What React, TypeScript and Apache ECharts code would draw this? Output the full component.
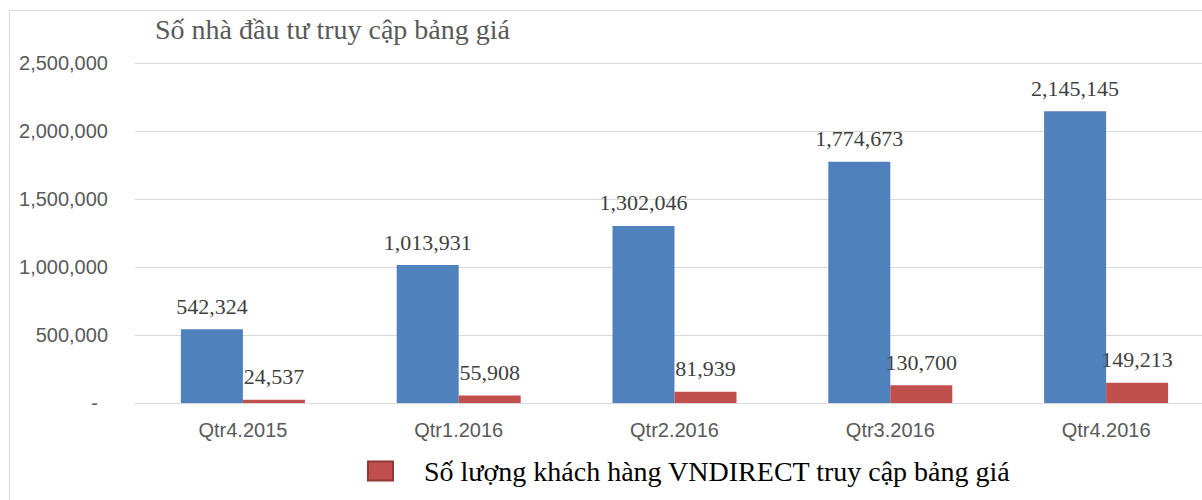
import React, { useEffect, useRef } from "react";
import * as echarts from "echarts";

const categories = ["Qtr4.2015", "Qtr1.2016", "Qtr2.2016", "Qtr3.2016", "Qtr4.2016"];
const investorValues = [542324, 1013931, 1302046, 1774673, 2145145];
const customerValues = [24537, 55908, 81939, 130700, 149213];
const titleText = "Số nhà đầu tư truy cập bảng giá";
const customerName = "Số lượng khách hàng VNDIRECT truy cập bảng giá";
const investorName = "Số nhà đầu tư truy cập bảng giá ";

const fmt = (v: number) => v.toLocaleString("en-US");

export default function App() {
  const ref = useRef<HTMLDivElement>(null);
  useEffect(() => {
    if (!ref.current) return;
    const chart = echarts.init(ref.current, undefined, { renderer: "svg" });
    const serif = "'Liberation Serif', 'Times New Roman', serif";
    const sans = "'Liberation Sans', Arial, sans-serif";
    chart.setOption({
      animation: false,
      backgroundColor: "#ffffff",
      title: {
        text: titleText,
        left: 150,
        top: 10,
        textStyle: { fontFamily: serif, fontSize: 28, fontWeight: "normal", color: "#595959" },
      },
      graphic: [
        {
          type: "rect",
          shape: { x: 9.5, y: 10.5, width: 1400, height: 700 },
          style: { fill: "none", stroke: "#d9d9d9", lineWidth: 1 },
          silent: true,
          z: -1,
        },
      ],
      legend: {
        data: [customerName],
        left: 362,
        top: 452,
        icon: "rect",
        itemWidth: 25,
        itemHeight: 19,
        itemStyle: { borderColor: "#943634", borderWidth: 2 },
        textStyle: { fontFamily: serif, fontSize: 28, color: "#000000", padding: [0, 0, 0, 26] },
      },
      grid: { left: 135, right: 0, top: 63, bottom: 97, containLabel: false },
      xAxis: {
        type: "category",
        data: categories,
        axisLine: { lineStyle: { color: "#d9d9d9", width: 1 } },
        axisTick: { show: false },
        axisLabel: { fontFamily: sans, fontSize: 20, color: "#595959", margin: 17 },
      },
      yAxis: {
        type: "value",
        min: 0,
        max: 2500000,
        interval: 500000,
        axisLine: { show: false },
        axisTick: { show: false },
        splitLine: { lineStyle: { color: "#d9d9d9", width: 1 } },
        axisLabel: {
          fontFamily: sans,
          fontSize: 20,
          color: "#595959",
          margin: 27,
          formatter: (v: number) => (v === 0 ? "{z|-}" : fmt(v)),
          rich: { z: { fontFamily: sans, fontSize: 20, color: "#595959", padding: [0, 10, 0, 0] } },
        },
      },
      series: [
        {
          name: investorName,
          type: "bar",
          data: investorValues,
          barWidth: 62,
          barGap: "0%",
          itemStyle: { color: "#4F81BD" },
          label: {
            show: true,
            position: "top",
            distance: 12,
            fontFamily: serif,
            fontSize: 22,
            color: "#404040",
            formatter: (p: any) => fmt(p.value),
          },
        },
        {
          name: customerName,
          type: "bar",
          data: customerValues,
          barWidth: 62,
          barGap: "0%",
          itemStyle: { color: "#C0504D" },
          label: {
            show: true,
            position: "top",
            distance: 12,
            fontFamily: serif,
            fontSize: 22,
            color: "#404040",
            formatter: (p: any) => fmt(p.value),
          },
        },
      ],
    });
    return () => chart.dispose();
  }, []);
  return (
    <div
      style={{
        position: "fixed",
        left: 0,
        top: 0,
        width: 1202,
        height: 500,
        overflow: "hidden",
        background: "#ffffff",
      }}
    >
      <div ref={ref} style={{ width: 1214, height: 500 }} />
    </div>
  );
}
